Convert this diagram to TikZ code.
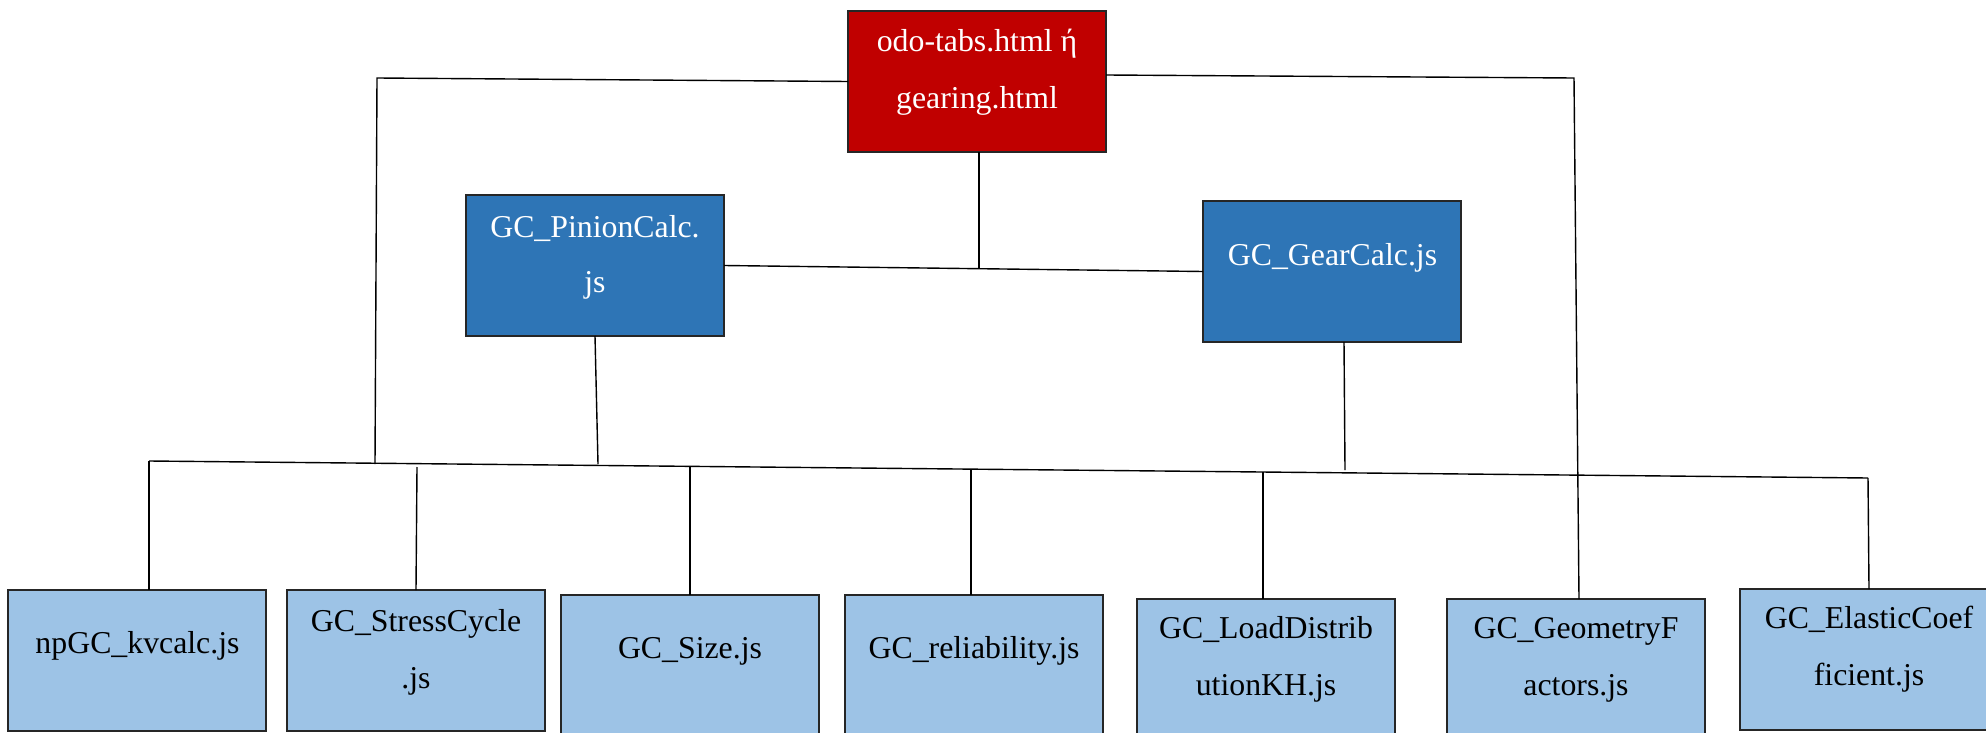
\documentclass[tikz,border=0pt]{standalone}
\usepackage{fontspec}
\setmainfont{Liberation Serif}
\newfontfamily\tnrfont{Liberation Serif}
\definecolor{topred}{HTML}{C00000}
\definecolor{midblue}{HTML}{2E75B6}
\definecolor{lightblue}{HTML}{9DC3E6}
\definecolor{edgegray}{HTML}{262626}
\begin{document}
\begin{tikzpicture}[x=0.5pt,y=-0.5pt,
  box/.style={draw=edgegray,line width=0.7pt,minimum width=129pt,minimum height=70.5pt,inner sep=0pt,outer sep=0pt,anchor=north west},
  redbox/.style={box,fill=topred},
  bluebox/.style={box,fill=midblue},
  leafbox/.style={box,fill=lightblue},
  lbl/.style={anchor=base,inner sep=0pt,font=\tnrfont\fontsize{15.9pt}{19pt}\selectfont},
  wlbl/.style={lbl,text=white},
  conn/.style={draw=black,line width=0.7pt}]
\useasboundingbox (0,0) rectangle (1986,733);
\clip (0,0) rectangle (1986,733);
% boxes
\node[redbox] (red) at (848,11) {};
\node[bluebox] (pin) at (466,195) {};
\node[bluebox] (gear) at (1203,201) {};
\node[leafbox] (b1) at (8,590) {};
\node[leafbox] (b2) at (287,590) {};
\node[leafbox] (b3) at (561,595) {};
\node[leafbox] (b4) at (845,595) {};
\node[leafbox] (b5) at (1137,599) {};
\node[leafbox] (b6) at (1447,599) {};
\node[leafbox] (b7) at (1740,589) {};
% labels
\node[wlbl] (red1) at (977,52) {odo-tabs.html ή};
\node[wlbl] (red2) at (977,109) {gearing.html};
\node[wlbl] (pin1) at (595,237) {GC\_PinionCalc.};
\node[wlbl] (pin2) at (595,292) {js};
\node[wlbl] (gear1) at (1332.5,265) {GC\_GearCalc.js};
\node[lbl] (t1) at (137.5,653) {npGC\_kvcalc.js};
\node[lbl] (t2a) at (416,631) {GC\_StressCycle};
\node[lbl] (t2b) at (416,688) {.js};
\node[lbl] (t3) at (690,658) {GC\_Size.js};
\node[lbl] (t4) at (974,658) {GC\_reliability.js};
\node[lbl] (t5a) at (1266,638) {GC\_LoadDistrib};
\node[lbl] (t5b) at (1266,695) {utionKH.js};
\node[lbl] (t6a) at (1576,638) {GC\_GeometryF};
\node[lbl] (t6b) at (1576,695) {actors.js};
\node[lbl] (t7a) at (1869,628) {GC\_ElasticCoef};
\node[lbl] (t7b) at (1869,685) {ficient.js};
% junction coordinates
\coordinate (tl) at (377,78);
\coordinate (bl) at (375,464);
\coordinate (tr) at (1574,78);
\coordinate (mid) at (979,268);
\coordinate (pb) at (598,464);
\coordinate (gb) at (1345,470);
\coordinate (busL) at (149,461);
\coordinate (busR) at (1868,478);
\coordinate (d2) at (417,467);
\coordinate (d3) at (690,467);
\coordinate (d4) at (971,470);
\coordinate (d5) at (1263,472);
% connectors
\draw[conn] (red.west) -- (tl) -- (bl);
\draw[conn] ([yshift=3.25pt]red.east) -- (tr) -- ([xshift=1.5pt]b6.north);
\draw[conn] ([xshift=1pt]red.south) -- (mid);
\draw[conn] (pin.east) -- (gear.west);
\draw[conn] (pin.south) -- (pb);
\draw[conn] ([xshift=6pt]gear.south) -- (gb);
\draw[conn] (busL) -- (busR);
\draw[conn] (busL) -- ([xshift=6pt]b1.north);
\draw[conn] (d2) -- (b2.north);
\draw[conn] (d3) -- (b3.north);
\draw[conn] (d4) -- ([xshift=-1.5pt]b4.north);
\draw[conn] (d5) -- ([xshift=-1.5pt]b5.north);
\draw[conn] (busR) -- (b7.north);
\end{tikzpicture}
\end{document}
